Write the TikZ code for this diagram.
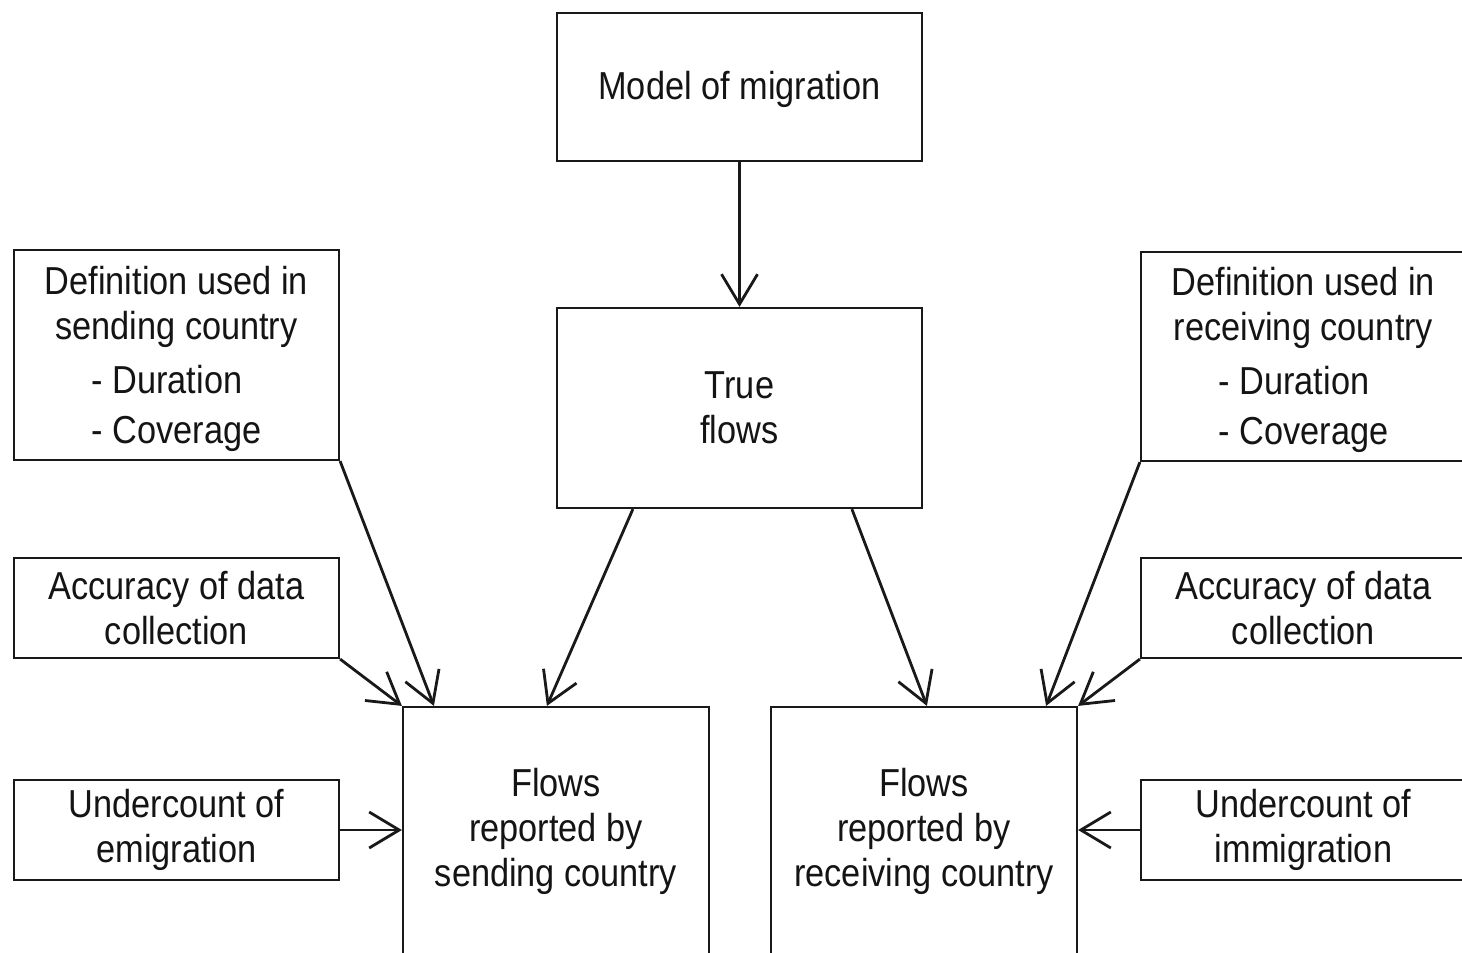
\documentclass[tikz,border=0pt]{standalone}
\usepackage{fontspec}
\setmainfont[FakeStretch=0.88]{Liberation Sans}
\usetikzlibrary{arrows.meta,calc}
\begin{document}
\begin{tikzpicture}[x=0.5pt,y=-0.5pt,
  box/.style={draw=black!90, line width=1.1pt, fill=white, inner sep=0pt, align=center,
    text=black!92, font=\fontsize{19.5}{22.5}\selectfont},
  arr/.style={line width=1.4pt, draw=black!90, -{Straight Barb[length=15pt,width=18pt,line width=1.4pt]}}]
\useasboundingbox (0,0) rectangle (1462,953);
\clip (0,0) rectangle (1462,953);
\node[box, minimum width=182.5pt, minimum height=74pt] (model) at (739.5,87) {\rule{0pt}{17pt}Model of migration};
\node[box, minimum width=182.5pt, minimum height=100pt] (true) at (739.5,408) {True\\flows};
\node[box, minimum width=162.5pt, minimum height=105pt] (defL) at (176.5,355)
  {\rule{0pt}{20.5pt}Definition used in\\sending country\\[4.5pt]\begin{tabular}[t]{@{}l@{}}- Duration\\[2.5pt]- Coverage\end{tabular}};
\node[box, minimum width=162.5pt, minimum height=50pt] (accL) at (176.5,608) {Accuracy of data\\collection};
\node[box, minimum width=162.5pt, minimum height=50pt] (undL) at (176.5,830) {Undercount of\\emigration};
\node[box, minimum width=153pt, minimum height=124pt] (flowsS) at (556,831) {Flows\\reported by\\sending country};
\node[box, minimum width=153pt, minimum height=124pt] (flowsR) at (924,831) {Flows\\reported by\\receiving country};
\node[box, minimum width=162.5pt, minimum height=104.5pt] (defR) at (1303.5,356.5)
  {\rule{0pt}{20.5pt}Definition used in\\receiving country\\[4.5pt]\begin{tabular}[t]{@{}l@{}}- Duration\\[2.5pt]- Coverage\end{tabular}};
\node[box, minimum width=162.5pt, minimum height=50pt] (accR) at (1303.5,608) {Accuracy of data\\collection};
\node[box, minimum width=162.5pt, minimum height=50pt] (undR) at (1303.5,830) {Undercount of\\immigration};

\draw[arr] (model.south) -- (true.north);
\draw[arr] ($(true.south west)+(77,0)$) -- ($(flowsS.north west)+(145,0)$);
\draw[arr] ($(true.south west)+(296,0)$) -- ($(flowsR.north west)+(157,0)$);
\draw[arr] (defL.south east) -- ($(flowsS.north west)+(32,0)$);
\draw[arr] (accL.south east) -- (flowsS.north west);
\draw[arr] (undL.east) -- (undL.east -| flowsS.west);
\draw[arr] (defR.south west) -- ($(flowsR.north east)+(-32,0)$);
\draw[arr] (accR.south west) -- (flowsR.north east);
\draw[arr] (undR.west) -- (undR.west -| flowsR.east);
\end{tikzpicture}
\end{document}
